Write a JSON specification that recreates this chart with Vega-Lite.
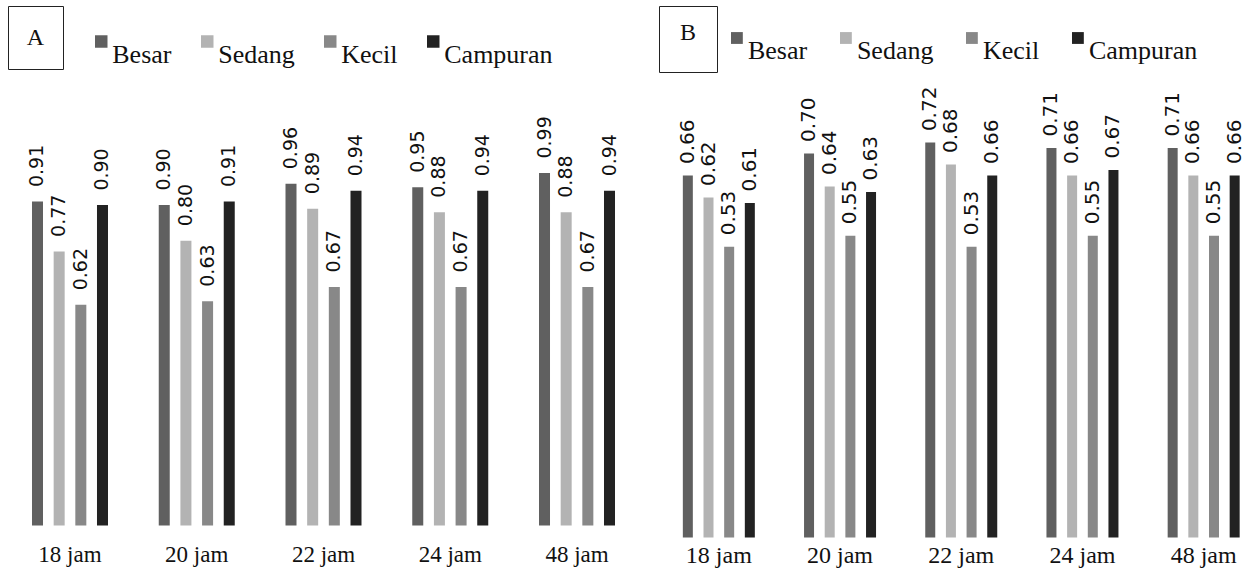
{
  "$schema": "https://vega.github.io/schema/vega-lite/v6.json",
  "background": "white",
  "padding": {"left": 7, "top": 5, "right": 0, "bottom": 0},
  "spacing": -48.5,
  "datasets": {
    "A": [
      {"waktu": "18 jam", "ukuran": "Besar", "nilai": 0.91},
      {"waktu": "18 jam", "ukuran": "Sedang", "nilai": 0.77},
      {"waktu": "18 jam", "ukuran": "Kecil", "nilai": 0.62},
      {"waktu": "18 jam", "ukuran": "Campuran", "nilai": 0.90},
      {"waktu": "20 jam", "ukuran": "Besar", "nilai": 0.90},
      {"waktu": "20 jam", "ukuran": "Sedang", "nilai": 0.80},
      {"waktu": "20 jam", "ukuran": "Kecil", "nilai": 0.63},
      {"waktu": "20 jam", "ukuran": "Campuran", "nilai": 0.91},
      {"waktu": "22  jam", "ukuran": "Besar", "nilai": 0.96},
      {"waktu": "22  jam", "ukuran": "Sedang", "nilai": 0.89},
      {"waktu": "22  jam", "ukuran": "Kecil", "nilai": 0.67},
      {"waktu": "22  jam", "ukuran": "Campuran", "nilai": 0.94},
      {"waktu": "24 jam", "ukuran": "Besar", "nilai": 0.95},
      {"waktu": "24 jam", "ukuran": "Sedang", "nilai": 0.88},
      {"waktu": "24 jam", "ukuran": "Kecil", "nilai": 0.67},
      {"waktu": "24 jam", "ukuran": "Campuran", "nilai": 0.94},
      {"waktu": "48 jam", "ukuran": "Besar", "nilai": 0.99},
      {"waktu": "48 jam", "ukuran": "Sedang", "nilai": 0.88},
      {"waktu": "48 jam", "ukuran": "Kecil", "nilai": 0.67},
      {"waktu": "48 jam", "ukuran": "Campuran", "nilai": 0.94}
    ],
    "B": [
      {"waktu": "18 jam", "ukuran": "Besar", "nilai": 0.66},
      {"waktu": "18 jam", "ukuran": "Sedang", "nilai": 0.62},
      {"waktu": "18 jam", "ukuran": "Kecil", "nilai": 0.53},
      {"waktu": "18 jam", "ukuran": "Campuran", "nilai": 0.61},
      {"waktu": "20 jam", "ukuran": "Besar", "nilai": 0.70},
      {"waktu": "20 jam", "ukuran": "Sedang", "nilai": 0.64},
      {"waktu": "20 jam", "ukuran": "Kecil", "nilai": 0.55},
      {"waktu": "20 jam", "ukuran": "Campuran", "nilai": 0.63},
      {"waktu": "22 jam", "ukuran": "Besar", "nilai": 0.72},
      {"waktu": "22 jam", "ukuran": "Sedang", "nilai": 0.68},
      {"waktu": "22 jam", "ukuran": "Kecil", "nilai": 0.53},
      {"waktu": "22 jam", "ukuran": "Campuran", "nilai": 0.66},
      {"waktu": "24 jam", "ukuran": "Besar", "nilai": 0.71},
      {"waktu": "24 jam", "ukuran": "Sedang", "nilai": 0.66},
      {"waktu": "24 jam", "ukuran": "Kecil", "nilai": 0.55},
      {"waktu": "24 jam", "ukuran": "Campuran", "nilai": 0.67},
      {"waktu": "48 jam", "ukuran": "Besar", "nilai": 0.71},
      {"waktu": "48 jam", "ukuran": "Sedang", "nilai": 0.66},
      {"waktu": "48 jam", "ukuran": "Kecil", "nilai": 0.55},
      {"waktu": "48 jam", "ukuran": "Campuran", "nilai": 0.66}
    ]
  },
  "vconcat": [
    {
      "bounds": "flush",
      "spacing": 596,
      "hconcat": [
        {
          "width": 55, "height": 63,
          "view": {"stroke": "#222", "strokeWidth": 1},
          "data": {"values": [{"panel": "A"}]},
          "mark": {"type": "text", "font": "Liberation Serif", "fontSize": 24, "color": "#111"},
          "encoding": {"text": {"field": "panel", "type": "nominal"}}
        },
        {
          "width": 58, "height": 66,
          "view": {"stroke": "#222", "strokeWidth": 1},
          "data": {"values": [{"panel": "B"}]},
          "mark": {"type": "text", "font": "Liberation Serif", "fontSize": 24, "color": "#111", "dy": -6},
          "encoding": {"text": {"field": "panel", "type": "nominal"}}
        }
      ]
    },
    {
      "bounds": "flush",
      "spacing": 40.2,
      "resolve": {"scale": {"x": "independent", "y": "independent", "xOffset": "independent", "color": "independent"}, "legend": {"color": "independent"}},
      "hconcat": [
        {
          "width": 631, "height": 435,
          "data": {"name": "A"},
          "encoding": {
            "x": {"field": "waktu", "type": "nominal", "sort": null,
                  "scale": {"paddingInner": 0.4004, "paddingOuter": 0.1893},
                  "axis": {"title": null, "labelAngle": 0, "domain": false, "ticks": false, "tickSize": 0, "labelPadding": 18, "labelFont": "Liberation Serif", "labelFontSize": 23, "labelColor": "#111"}},
            "xOffset": {"field": "ukuran", "type": "nominal", "sort": ["Besar", "Sedang", "Kecil", "Campuran"],
                        "scale": {"paddingInner": 0.492, "paddingOuter": 0}},
            "y": {"field": "nilai", "type": "quantitative", "scale": {"domain": [0, 1.2219], "nice": false}, "axis": null}
          },
          "layer": [
            {
              "mark": {"type": "bar"},
              "encoding": {
                "color": {"field": "ukuran", "type": "nominal", "sort": ["Besar", "Sedang", "Kecil", "Campuran"],
                          "scale": {"domain": ["Besar", "Sedang", "Kecil", "Campuran"], "range": ["#606060", "#b3b3b3", "#888888", "#222222"]},
                          "legend": {"orient": "none", "legendX": 80.25, "legendY": -62, "direction": "horizontal", "title": null,
                                     "symbolType": "square", "symbolSize": 156, "symbolStrokeWidth": 0, "labelFont": "Liberation Serif",
                                     "labelFontSize": 26, "labelBaseline": "top", "labelOffset": -2, "columnPadding": 22, "padding": 0, "labelColor": "#111"}}
              }
            },
            {
              "mark": {"type": "text", "angle": -90, "align": "left", "baseline": "middle", "dx": 14.5, "font": "DejaVu Sans", "fontSize": 19, "color": "#111"},
              "encoding": {"text": {"field": "nilai", "type": "quantitative", "format": ".2f"}}
            }
          ]
        },
        {
          "width": 564.1, "height": 447,
          "data": {"name": "B"},
          "encoding": {
            "x": {"field": "waktu", "type": "nominal", "sort": null,
                  "scale": {"paddingInner": 0.406, "paddingOuter": 0.03},
                  "axis": {"title": null, "labelAngle": 0, "domain": false, "ticks": false, "tickSize": 0, "labelPadding": 6, "labelFont": "Liberation Serif", "labelFontSize": 24, "labelColor": "#111"}},
            "xOffset": {"field": "ukuran", "type": "nominal", "sort": ["Besar", "Sedang", "Kecil", "Campuran"],
                        "scale": {"paddingInner": 0.516, "paddingOuter": 0}},
            "y": {"field": "nilai", "type": "quantitative", "scale": {"domain": [0, 0.815], "nice": false}, "axis": null}
          },
          "layer": [
            {
              "mark": {"type": "bar"},
              "encoding": {
                "color": {"field": "ukuran", "type": "nominal", "sort": ["Besar", "Sedang", "Kecil", "Campuran"],
                          "scale": {"domain": ["Besar", "Sedang", "Kecil", "Campuran"], "range": ["#606060", "#b3b3b3", "#888888", "#222222"]},
                          "legend": {"orient": "none", "legendX": 44.7, "legendY": -65.5, "direction": "horizontal", "title": null,
                                     "symbolType": "square", "symbolSize": 140, "symbolStrokeWidth": 0, "labelFont": "Liberation Serif",
                                     "labelFontSize": 26, "labelBaseline": "top", "labelOffset": -2, "columnPadding": 25, "padding": 0, "labelColor": "#111"}}
              }
            },
            {
              "mark": {"type": "text", "angle": -90, "align": "left", "baseline": "middle", "dx": 11.5, "font": "DejaVu Sans", "fontSize": 20, "color": "#111"},
              "encoding": {"text": {"field": "nilai", "type": "quantitative", "format": ".2f"}}
            }
          ]
        }
      ]
    }
  ],
  "config": {
    "view": {"stroke": null},
    "axis": {"grid": false}
  }
}
